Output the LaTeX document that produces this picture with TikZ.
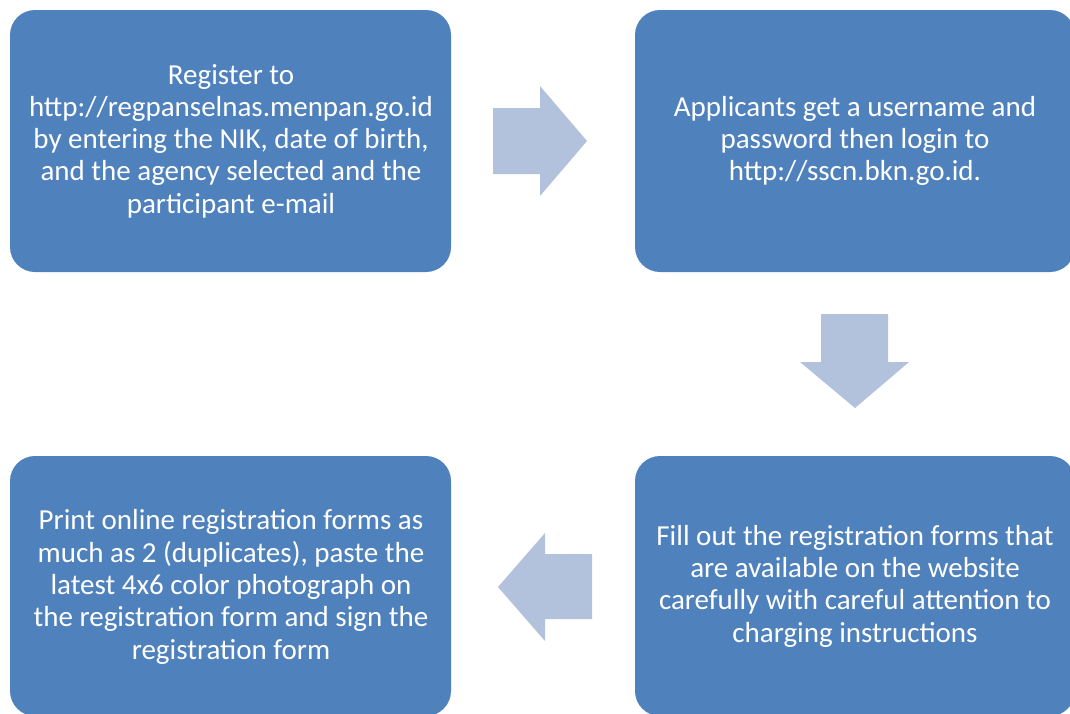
\documentclass[tikz,border=0pt]{standalone}
\usepackage{fontspec}
\setmainfont{Carlito}
\definecolor{boxblue}{HTML}{4F81BD}
\definecolor{arrowblue}{HTML}{B2C2DD}
\begin{document}
\begin{tikzpicture}[x=1pt,y=-1pt,
  stepbox/.style={fill=boxblue,draw=none,rounded corners=25pt},
  steptext/.style={text=white,align=center,font=\fontsize{29}{32.3}\selectfont,inner sep=0pt},
  flowarrow/.style={fill=arrowblue,draw=none}]
\useasboundingbox (0,0) rectangle (1070,713);
\begin{scope}
\clip (0,0) rectangle (1070,713);
\fill[stepbox] (10,10) rectangle (451,272);
\fill[stepbox] (635,10) rectangle (1075,272);
\fill[stepbox] (10,456) rectangle (451,716);
\fill[stepbox] (635,456) rectangle (1075,716);
\end{scope}
\node[steptext] (s1) at (231,141) {Register to\\http://regpanselnas.menpan.go.id\\by entering the NIK, date of birth,\\and the agency selected and the\\participant e-mail};
\node[steptext] (s2) at (855,141) {Applicants get a username and\\password then login to\\http://sscn.bkn.go.id.};
\node[steptext] (s3) at (855,586) {Fill out the registration forms that\\are available on the website\\carefully with careful attention to\\charging instructions};
\node[steptext] (s4) at (231,587) {Print online registration forms as\\much as 2 (duplicates), paste the\\latest 4x6 color photograph on\\the registration form and sign the\\registration form};
\fill[flowarrow] (493,108) -- (540,108) -- (540,86) -- (587,141) -- (540,196) -- (540,174) -- (493,174) -- cycle;
\fill[flowarrow] (821,314) -- (888,314) -- (888,362) -- (909,362) -- (855,408) -- (800,362) -- (821,362) -- cycle;
\fill[flowarrow] (592,554) -- (545,554) -- (545,533) -- (498,587) -- (545,641) -- (545,619) -- (592,619) -- cycle;
\end{tikzpicture}
\end{document}
